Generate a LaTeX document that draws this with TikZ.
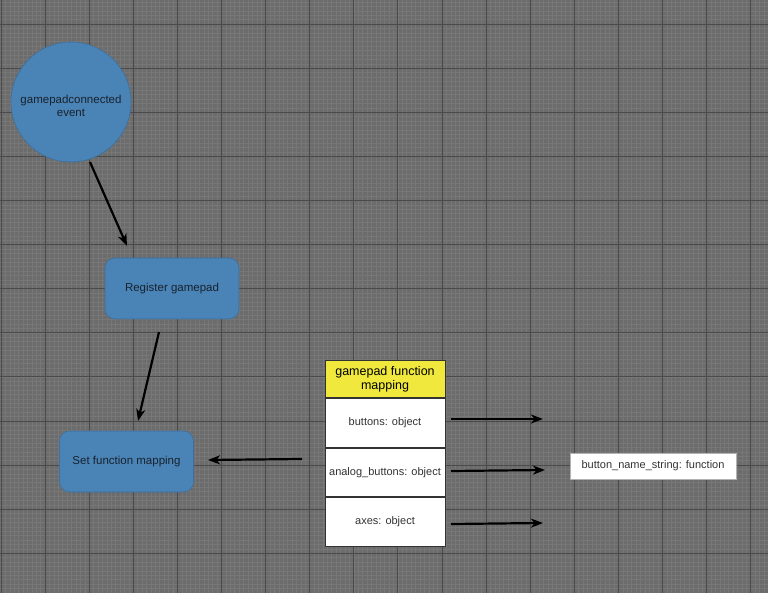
\documentclass[tikz,border=0pt]{standalone}
\usepackage{fontspec}
\setmainfont{Liberation Sans}
\usetikzlibrary{arrows.meta}
\definecolor{bgc}{HTML}{6C6C6C}
\definecolor{minorc}{HTML}{777777}
\definecolor{majorc}{HTML}{4A4A4A}
\definecolor{bluefill}{HTML}{4A83B5}
\definecolor{blueline}{HTML}{3D6F9C}
\definecolor{navytext}{HTML}{17232F}
\definecolor{yellowfill}{HTML}{F0E83C}
\definecolor{tabletext}{HTML}{333333}
\tikzset{
  bluebox/.style={draw=blueline, fill=bluefill, rounded corners=10pt, line width=0.6pt,
    minimum width=134pt, minimum height=61pt, inner sep=0pt, text=navytext,
    font=\fontsize{11.5}{13}\selectfont},
  cellbox/.style={draw=tabletext, fill=white, line width=1pt, minimum width=120pt,
    inner sep=0pt, text=tabletext, font=\fontsize{11}{13}\selectfont},
  flow/.style={line width=2.2pt, -{Stealth[length=12pt,width=9pt,inset=3.5pt]}},
}
\begin{document}
\begin{tikzpicture}[x=1pt,y=-1pt]
\useasboundingbox (0,0) rectangle (768,593);
\fill[bgc] (0,0) rectangle (768,593);
% minor grid
\foreach \i in {0,...,175} {
  \draw[minorc, line width=0.35pt] ({0.9+4.41*\i},0) -- ({0.9+4.41*\i},593);
}
\foreach \i in {0,...,140} {
  \draw[minorc, line width=0.35pt] (0,{-20.1+4.41*\i}) -- (768,{-20.1+4.41*\i});
}
% major grid
\foreach \i in {0,...,17} {
  \draw[majorc, line width=0.8pt] ({0.9+44.1*\i},0) -- ({0.9+44.1*\i},593);
}
\foreach \i in {0,...,13} {
  \draw[majorc, line width=0.8pt] (0,{24+44.1*\i}) -- (768,{24+44.1*\i});
}

% nodes
\node[circle, draw=blueline, fill=bluefill, line width=0.6pt, minimum size=120pt, inner sep=0pt]
  (evt) at (71,102) {};
\node[text=navytext, font=\fontsize{11.5}{13}\selectfont, align=center, inner sep=0pt]
  (evtlabel) at (71,106) {gamepadconnected\\event};
\node[bluebox] (reg) at (172,288.5) {Register gamepad};
\node[bluebox] (setmap) at (126.5,461.5) {Set function mapping};

\node[draw=tabletext, fill=yellowfill, line width=1pt, minimum width=120pt, minimum height=37pt,
  inner sep=0pt, text=black, align=center, font=\fontsize{12.5}{14}\selectfont, anchor=north]
  (head) at (385,360) {gamepad function\\mapping};
\node[cellbox, minimum height=48.5pt, anchor=north] (btn) at (head.south) {buttons: object};
\node[cellbox, minimum height=48.5pt, anchor=north] (abtn) at (btn.south) {analog\_buttons: object};
\node[cellbox, minimum height=49pt, anchor=north] (axes) at (abtn.south) {axes: object};

\node[draw=gray!60, fill=white, line width=0.6pt, minimum width=166pt, minimum height=26pt,
  inner sep=0pt, text=tabletext, font=\fontsize{11}{13}\selectfont] (bns) at (653,466)
  {button\_name\_string: function};

% connector end points
\coordinate (e1s) at (90,162);
\coordinate (e1e) at (127,246);
\coordinate (e2s) at (159,332);
\coordinate (e2e) at (138,421);
\coordinate (e3s) at (302,459);
\coordinate (e3e) at (208,460);
\coordinate (e4s) at (451,419);
\coordinate (e4e) at (543,419);
\coordinate (e5s) at (451,471);
\coordinate (e5e) at (545,470);
\coordinate (e6s) at (451,524);
\coordinate (e6e) at (543,523);

\draw[flow] (e1s) -- (e1e);
\draw[flow] (e2s) -- (e2e);
\draw[flow] (e3s) -- (e3e);
\draw[flow] (e4s) -- (e4e);
\draw[flow] (e5s) -- (e5e);
\draw[flow] (e6s) -- (e6e);
\end{tikzpicture}
\end{document}
